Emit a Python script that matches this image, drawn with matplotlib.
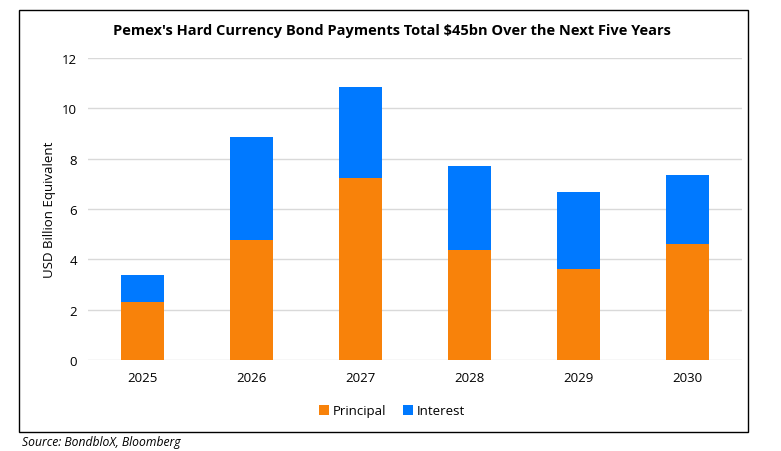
import matplotlib.pyplot as plt
from matplotlib.patches import Rectangle
import numpy as np

plt.rcParams['font.family'] = ['Open Sans', 'DejaVu Sans']

years = ['2025', '2026', '2027', '2028', '2029', '2030']
principal = [2.29, 4.78, 7.24, 4.38, 3.63, 4.62]
interest = [1.10, 4.09, 3.62, 3.34, 3.06, 2.74]

orange = '#F8820A'
blue = '#0079FF'

W, H = 781, 452
fig = plt.figure(figsize=(W / 100, H / 100), dpi=100)
ax = fig.add_axes([88 / W, 1 - 361 / H, (742 - 88) / W, (361 - 59) / H])

x = np.arange(len(years))
ax.bar(x, principal, width=0.4, color=orange, label='Principal', zorder=3)
ax.bar(x, interest, width=0.4, bottom=principal, color=blue, label='Interest', zorder=3)

ax.set_xlim(-0.5, len(years) - 0.5)
ax.set_ylim(0, 12)
ax.set_yticks(range(0, 13, 2))
ax.set_xticks(x)
ax.set_xticklabels(years)
ax.grid(axis='y', color='#D9D9D9', linewidth=1, zorder=0)
for s in ax.spines.values():
    s.set_visible(False)
ax.tick_params(length=0, labelsize=9.5, colors='#000000', pad=8)
ax.set_ylabel('USD Billion Equivalent', fontsize=9.5, labelpad=4)

fig.text(392 / W, 1 - 31 / H, "Pemex's Hard Currency Bond Payments Total $45bn Over the Next Five Years",
         ha='center', va='center', fontsize=10.5, fontweight='bold')

fig.legend(loc='center', bbox_to_anchor=(392 / W, 1 - 412 / H), ncol=2, frameon=False,
           fontsize=9.5, handlelength=0.8, handleheight=0.8, handletextpad=0.3, columnspacing=1.2)

fig.patches.append(Rectangle((19 / W, 1 - 433 / H), (748 - 19) / W, (433 - 11) / H,
                             transform=fig.transFigure, fill=False, edgecolor='black', linewidth=1))

fig.text(22 / W, 1 - 443 / H, 'Source: BondbloX, Bloomberg', ha='left', va='center',
         fontsize=8.7, style='italic')

fig.savefig('out.png', dpi=100)
